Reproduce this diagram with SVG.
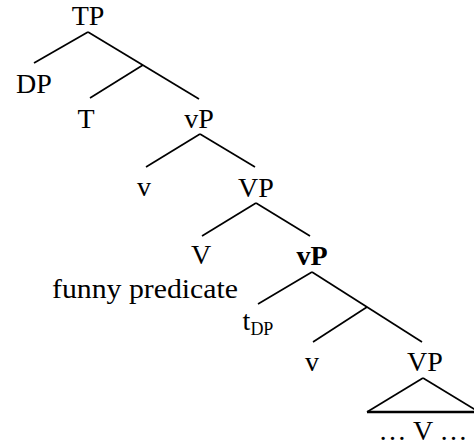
<svg xmlns="http://www.w3.org/2000/svg" width="474" height="444" viewBox="0 0 474 444">
<style>
text{font-family:"Liberation Serif","Times New Roman",serif;font-size:28px;fill:#000;text-anchor:middle}
.b{font-weight:bold}
.s{font-size:18px}
.e line{stroke:#000;stroke-width:1.7;stroke-linecap:butt}
.e .base{stroke-width:2.6}
</style>
<rect width="474" height="444" fill="#fff"/>
<g class="e" id="connectors">
<line x1="88" y1="32" x2="34" y2="63"/>
<line x1="88" y1="32" x2="199" y2="99"/>
<line x1="143" y1="65" x2="90" y2="98"/>
<line x1="200" y1="134" x2="146" y2="167"/>
<line x1="200" y1="134" x2="255" y2="167"/>
<line x1="256" y1="203" x2="202" y2="236"/>
<line x1="256" y1="203" x2="310" y2="236"/>
<line x1="312" y1="272" x2="258" y2="304"/>
<line x1="312" y1="272" x2="422" y2="342"/>
<line x1="367" y1="307" x2="313" y2="342"/>
<line x1="423" y1="378" x2="367" y2="412"/>
<line x1="423" y1="378" x2="479" y2="412"/>
<line class="base" x1="367" y1="412" x2="474" y2="412"/>
</g>
<g id="TP"><text x="88" y="25">TP</text></g>
<g id="DP"><text x="34" y="93">DP</text></g>
<g id="T"><text x="86" y="128">T</text></g>
<g id="vP1"><text x="199" y="128">vP</text></g>
<g id="v1"><text x="144" y="196">v</text></g>
<g id="VP1"><text x="256" y="197">VP</text></g>
<g id="V1"><text x="201" y="264">V</text></g>
<g id="vP2"><text class="b" x="312" y="265">vP</text></g>
<g id="funny"><text x="145" y="298" textLength="186" lengthAdjust="spacingAndGlyphs">funny predicate</text></g>
<g id="tDP"><text x="258" y="330">t<tspan class="s" dy="5">DP</tspan></text></g>
<g id="v2"><text x="312" y="371">v</text></g>
<g id="VP2"><text x="425" y="371">VP</text></g>
<g id="V2"><text x="423" y="440">… V …</text></g>
</svg>
